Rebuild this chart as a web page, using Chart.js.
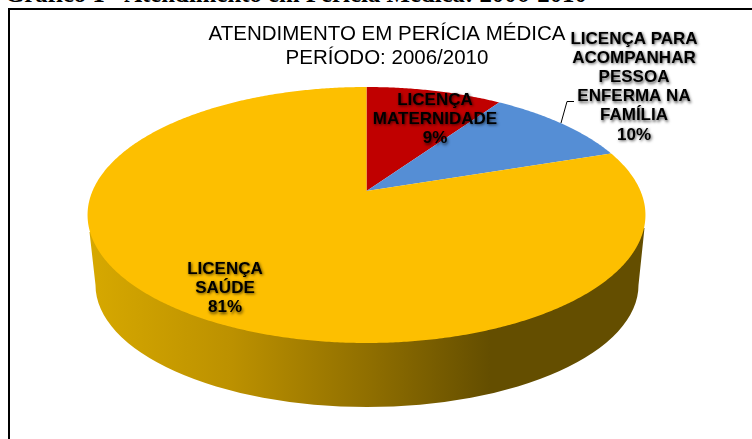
<!DOCTYPE html>
<html lang="pt">
<head>
<meta charset="utf-8">
<style>
html,body{margin:0;padding:0;background:#fff;overflow:hidden}
#page{position:relative;width:752px;height:439px;overflow:hidden}
#heading{position:absolute;left:5px;top:-20px;font:bold 24.8px "Liberation Serif",serif;color:#000;white-space:nowrap}
#frame{position:absolute;left:8px;top:8px;width:760px;height:460px;border:2.5px solid #000;box-sizing:border-box}
canvas{position:absolute;left:0;top:0}
</style>
</head>
<body>
<div id="page">
<div id="heading">Gráfico 1 - Atendimento em Perícia Médica: 2006-2010</div>
<div id="frame"></div>
<canvas id="c" width="752" height="439"></canvas>
</div>
<script src="https://cdn.jsdelivr.net/npm/chart.js@4"></script>
<script>
const categories = ['LICENÇA MATERNIDADE', 'LICENÇA PARA ACOMPANHAR PESSOA ENFERMA NA FAMÍLIA', 'LICENÇA SAÚDE'];
const categoryLines = [
  ['LICENÇA', 'MATERNIDADE'],
  ['LICENÇA PARA', 'ACOMPANHAR', 'PESSOA', 'ENFERMA NA', 'FAMÍLIA'],
  ['LICENÇA', 'SAÚDE']
];
const shareValues = [9, 10, 81];
const sliceColors = ['#C00000', '#558ED5', '#FDBF00'];
const titleLines = ['ATENDIMENTO EM PERÍCIA MÉDICA', 'PERÍODO: 2006/2010'];

// Perspective view of the pie: apex, half-axes and foreshortening
const view = { apexX: 366.5, apexY: 191, a: 274, b: 123.5, k: 0.1875, warp: 3 * Math.PI / 180 };
const wall = { topL: [89.5, 232], topR: [644.5, 228], cx: 367, cy: 285, rx: 271.5, ry: 122 };
const labelAnchors = [
  { x: 435, y: 100 },
  { x: 634, y: 39 },
  { x: 225, y: 269 }
];

function project(angle) {
  let t = angle + Math.PI / 2;
  t += view.warp * Math.sin(t);
  const x = Math.sin(t), y = Math.cos(t), d = 1 + view.k * y;
  return [view.apexX + view.a * x / d, view.apexY - view.b * y / d];
}

class PerspectiveArc extends Chart.ArcElement {
  draw(ctx) {
    const s = this.startAngle, e = this.endAngle;
    const steps = Math.max(2, Math.ceil((e - s) / (Math.PI / 360)));
    ctx.save();
    ctx.beginPath();
    ctx.moveTo(view.apexX, view.apexY);
    for (let i = 0; i <= steps; i++) {
      const p = project(s + (e - s) * i / steps);
      ctx.lineTo(p[0], p[1]);
    }
    ctx.closePath();
    ctx.fillStyle = this.options.backgroundColor;
    ctx.fill();
    ctx.restore();
  }
}
PerspectiveArc.id = 'perspectiveArc';
PerspectiveArc.defaults = Chart.ArcElement.defaults;

class PerspectivePie extends Chart.PieController {}
PerspectivePie.id = 'perspectivePie';
PerspectivePie.defaults = { dataElementType: 'perspectiveArc' };

Chart.register(PerspectiveArc, PerspectivePie);

const wallPlugin = {
  id: 'wallPlugin',
  beforeDatasetsDraw(chart) {
    const ctx = chart.ctx;
    ctx.save();
    const g = ctx.createLinearGradient(92, 0, 490, 0);
    g.addColorStop(0, '#D6A800');
    g.addColorStop(0.35, '#BC9100');
    g.addColorStop(0.7, '#8F6E00');
    g.addColorStop(1, '#644E00');
    ctx.beginPath();
    ctx.moveTo(wall.topL[0], wall.topL[1]);
    ctx.lineTo(wall.cx - wall.rx, wall.cy);
    ctx.ellipse(wall.cx, wall.cy, wall.rx, wall.ry, 0, Math.PI, 0, true);
    ctx.lineTo(wall.topR[0], wall.topR[1]);
    ctx.closePath();
    ctx.fillStyle = g;
    ctx.fill();
    ctx.restore();
  }
};

const labelPlugin = {
  id: 'labelPlugin',
  afterDatasetsDraw(chart) {
    const ctx = chart.ctx;
    ctx.save();
    // leader line of the blue slice
    ctx.strokeStyle = '#000';
    ctx.lineWidth = 1;
    ctx.beginPath();
    ctx.moveTo(574, 101.5);
    ctx.lineTo(567, 101.5);
    ctx.lineTo(561, 123);
    ctx.stroke();

    ctx.font = 'bold 17px "Liberation Sans", Arial, sans-serif';
    ctx.textAlign = 'center';
    ctx.textBaseline = 'middle';
    ctx.fillStyle = '#000';
    ctx.shadowColor = 'rgba(0,0,0,0.65)';
    ctx.shadowBlur = 3;
    ctx.shadowOffsetX = 1;
    ctx.shadowOffsetY = 1.5;
    shareValues.forEach((v, i) => {
      const lines = categoryLines[i].concat([v + '%']);
      lines.forEach((t, j) => {
        ctx.fillText(t, labelAnchors[i].x, labelAnchors[i].y + j * 19.2);
      });
    });
    ctx.restore();
  }
};

new Chart(document.getElementById('c'), {
  type: 'perspectivePie',
  data: {
    labels: categories,
    datasets: [{ data: shareValues, backgroundColor: sliceColors, borderWidth: 0 }]
  },
  options: {
    responsive: false,
    animation: false,
    layout: { padding: { left: 22, top: 22 } },
    plugins: {
      legend: { display: false },
      tooltip: { enabled: false },
      title: {
        display: true,
        text: titleLines,
        color: '#000',
        font: { family: '"Liberation Sans", Arial, sans-serif', size: 20.5, weight: 'normal', lineHeight: 1.17 },
        padding: 0
      }
    }
  },
  plugins: [wallPlugin, labelPlugin]
});
</script>
</body>
</html>
